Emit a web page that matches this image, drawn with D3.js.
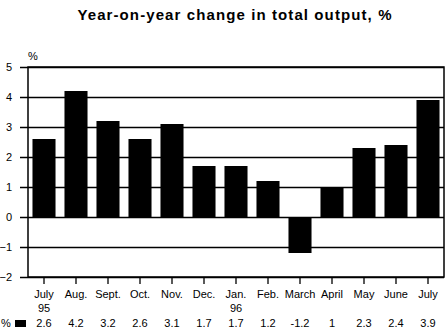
<!DOCTYPE html>
<html><head><meta charset="utf-8">
<script src="https://cdn.jsdelivr.net/npm/d3@7"></script>
<style>body{margin:0;background:#fff}svg{display:block}text{font-family:"Liberation Sans",Arial,sans-serif;fill:#000}</style>
</head><body><svg id="c" width="446" height="335"></svg>
<script>
const months = ["July","Aug.","Sept.","Oct.","Nov.","Dec.","Jan.","Feb.","March","April","May","June","July"];
const years = ["95","","","","","","96","","","","","",""];
const values = [2.6,4.2,3.2,2.6,3.1,1.7,1.7,1.2,-1.2,1,2.3,2.4,3.9];
const valueLabels = ["2.6","4.2","3.2","2.6","3.1","1.7","1.7","1.2","-1.2","1","2.3","2.4","3.9"];
const yTicks = [-2,-1,0,1,2,3,4,5];

const svg = d3.select("#c");
const L=28,R=444,T=67,B=277;
const x = d3.scaleBand().domain(d3.range(months.length)).range([L,R]).paddingInner(0.28).paddingOuter(0.14);
const y = d3.scaleLinear().domain([-2,5]).range([B,T]);

svg.append("text").attr("x",235).attr("y",20).attr("text-anchor","middle")
  .style("font-size","15px").style("font-weight","bold").style("letter-spacing","1.1px")
  .text("Year-on-year change in total output, %");

// y axis with grid
const ya = svg.append("g").attr("transform",`translate(${L},0)`)
  .call(d3.axisLeft(y).tickValues(yTicks).tickSize(8).tickPadding(8).tickFormat(d3.format("d")));
ya.select(".domain").remove();
ya.selectAll(".tick line").attr("x1",R-L).attr("x2",-8).attr("stroke","#000").attr("stroke-width",1.3);
ya.selectAll("text").style("font-size","11px");

svg.append("text").attr("x",28).attr("y",60).style("font-size","11px").text("%");

// bars
svg.append("g").selectAll("rect").data(values).join("rect")
  .attr("x",(d,i)=>x(i)).attr("width",x.bandwidth())
  .attr("y",d=>y(Math.max(0,d))).attr("height",d=>Math.abs(y(d)-y(0)))
  .attr("fill","#000");

// frame
svg.append("rect").attr("x",L).attr("y",T).attr("width",R-L).attr("height",B-T)
  .attr("fill","none").attr("stroke","#000").attr("stroke-width",1.5);

// x axis ticks
const xa = svg.append("g").attr("transform",`translate(0,${B})`)
  .call(d3.axisBottom(x).tickSize(7).tickFormat(""));
xa.select(".domain").remove();
xa.selectAll(".tick line").attr("stroke","#000").attr("stroke-width",1.3);

const cx = i => x(i)+x.bandwidth()/2;
const lab = svg.append("g").style("font-size","11px");
lab.selectAll(".m").data(months).join("text").attr("class","m")
  .attr("x",(d,i)=>cx(i)).attr("y",298).attr("text-anchor","middle").text(d=>d);
lab.selectAll(".yr").data(years).join("text").attr("class","yr")
  .attr("x",(d,i)=>cx(i)).attr("y",312).attr("text-anchor","middle").text(d=>d);
lab.selectAll(".v").data(valueLabels).join("text").attr("class","v")
  .attr("x",(d,i)=>cx(i)).attr("y",327).attr("text-anchor","middle").text(d=>d);
lab.append("text").attr("x",1).attr("y",327).text("%");
svg.append("rect").attr("x",15).attr("y",320).attr("width",11).attr("height",7).attr("fill","#000");
</script></body></html>
